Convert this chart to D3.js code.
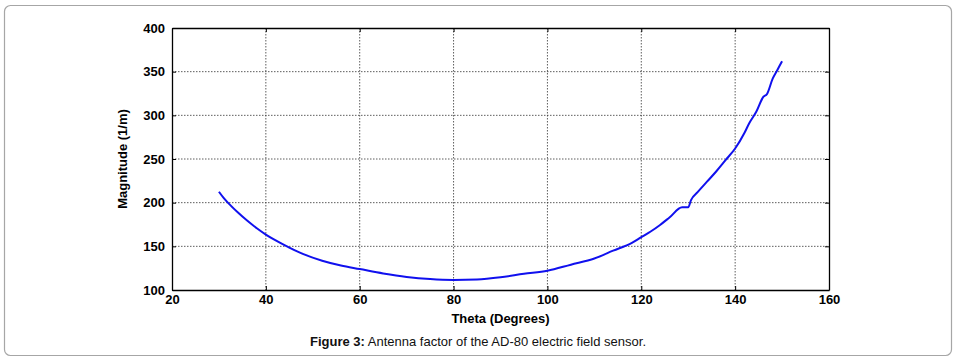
<!DOCTYPE html>
<html>
<head>
<meta charset="utf-8">
<script src="https://cdn.jsdelivr.net/npm/d3@7"></script>
<style>
  body { margin: 0; background: #fff; }
  svg { display: block; font-family: "Liberation Sans", Arial, sans-serif; }
</style>
</head>
<body>
<div id="chart-area"></div>
<script>
// values
var theta = [30, 31, 32, 34, 36, 38, 40, 42, 45, 48, 52, 56, 60, 65, 70, 75, 80, 85, 90, 95,
             100, 105, 110, 114, 118, 120, 122, 124, 126, 128.7, 130, 130.6, 132, 134, 136, 138,
             140, 142, 143, 144.5, 146, 146.8, 148, 149, 150];
var magnitude = [212.5, 205.5, 199.5, 189, 179.5, 171, 163.5, 157, 148.5, 141, 133.5, 128, 124, 119, 115, 112.5, 111.5, 112, 114.5, 118.5,
                 122, 129, 136, 145, 154, 160.5, 167, 174.5, 183, 194.7, 194.7, 203, 212, 224, 236, 249,
                 262, 280, 291, 304, 321, 324.5, 342, 352, 362];
var xTicks = [20, 40, 60, 80, 100, 120, 140, 160];
var yTicks = [100, 150, 200, 250, 300, 350, 400];

var W = 956, H = 361;
var margin = {left: 172, right: 127, top: 28, bottom: 71};
var width = W - margin.left - margin.right;
var height = H - margin.top - margin.bottom;

var svg = d3.select("#chart-area").append("svg")
    .attr("width", W)
    .attr("height", H);

// outer frame
svg.append("rect")
    .attr("x", 4.5).attr("y", 5.5)
    .attr("width", 947).attr("height", 350)
    .attr("rx", 6)
    .attr("fill", "none")
    .attr("stroke", "#a6a6a6")
    .attr("stroke-width", 1.2);

var g = svg.append("g")
    .attr("transform", "translate(" + margin.left + "," + margin.top + ")");

var x = d3.scaleLinear().domain([20, 160]).range([0, width]);
var y = d3.scaleLinear().domain([100, 400]).range([height, 0]);

// grid
g.append("g").selectAll("line").data(xTicks.slice(1, -1)).enter().append("line")
    .attr("x1", function(d) { return x(d); }).attr("x2", function(d) { return x(d); })
    .attr("y1", 0).attr("y2", height)
    .attr("stroke", "#333").attr("stroke-width", 0.8)
    .attr("stroke-dasharray", "1.5,1.5");
g.append("g").selectAll("line").data(yTicks.slice(1, -1)).enter().append("line")
    .attr("y1", function(d) { return y(d); }).attr("y2", function(d) { return y(d); })
    .attr("x1", 0).attr("x2", width)
    .attr("stroke", "#333").attr("stroke-width", 0.8)
    .attr("stroke-dasharray", "1.5,1.5");

// axes
var xAxis = d3.axisBottom(x).tickValues(xTicks).tickSizeInner(-4).tickSizeOuter(0).tickPadding(6);
var yAxis = d3.axisLeft(y).tickValues(yTicks).tickSizeInner(-4).tickSizeOuter(0).tickPadding(7);

g.append("g")
    .attr("class", "x axis")
    .attr("transform", "translate(0," + height + ")")
    .call(xAxis);
g.append("g")
    .attr("class", "y axis")
    .call(yAxis);
g.append("g")
    .attr("transform", "translate(0,0)")
    .call(d3.axisTop(x).tickValues(xTicks).tickSizeInner(-4).tickSizeOuter(0).tickFormat(""));
g.append("g")
    .attr("transform", "translate(" + width + ",0)")
    .call(d3.axisRight(y).tickValues(yTicks).tickSizeInner(-4).tickSizeOuter(0).tickFormat(""));

g.selectAll(".domain").attr("stroke", "#000").attr("stroke-width", 1.3);
g.selectAll(".tick line").attr("stroke", "#000").attr("stroke-width", 1);
g.selectAll(".tick text")
    .attr("font-family", "Liberation Sans, Arial, sans-serif")
    .attr("font-size", "13px")
    .attr("font-weight", "bold")
    .attr("fill", "#000");
g.select(".x.axis").selectAll(".tick text").attr("dy", "0.6em");

// labels
g.append("text")
    .attr("x", width / 2)
    .attr("y", height + 33)
    .attr("text-anchor", "middle")
    .attr("font-size", "13px")
    .attr("font-weight", "bold")
    .text("Theta (Degrees)");

g.append("text")
    .attr("transform", "rotate(-90)")
    .attr("x", -(y(250)))
    .attr("y", -45)
    .attr("text-anchor", "middle")
    .attr("font-size", "13px")
    .attr("font-weight", "bold")
    .text("Magnitude (1/m)");

// curve
var pts = theta.map(function(t, i) { return {t: t, m: magnitude[i]}; });
var line = d3.line()
    .x(function(d) { return x(d.t); })
    .y(function(d) { return y(d.m); })
    .curve(d3.curveMonotoneX);

g.append("path")
    .datum(pts)
    .attr("d", line)
    .attr("fill", "none")
    .attr("stroke", "#1010ee")
    .attr("stroke-width", 2);

// caption
var cap = svg.append("text")
    .attr("x", 478)
    .attr("y", 346)
    .attr("text-anchor", "middle")
    .attr("font-size", "13px")
    .attr("fill", "#111");
cap.append("tspan").attr("font-weight", "bold").text("Figure 3:");
cap.append("tspan").text(" Antenna factor of the AD-80 electric field sensor.");
</script>
</body>
</html>
